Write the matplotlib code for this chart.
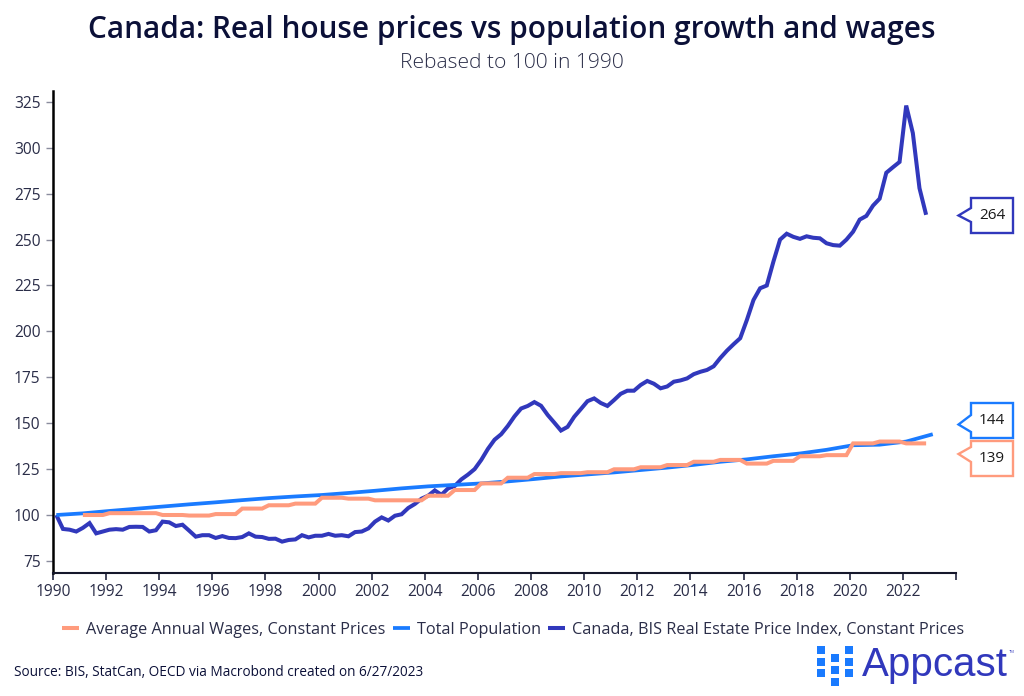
import matplotlib
matplotlib.use("Agg")
import matplotlib.pyplot as plt
from matplotlib.patches import Polygon, Rectangle

plt.rcParams['font.family'] = ['Open Sans', 'DejaVu Sans']

W, H = 1024, 696
NAVY, BLUE, ORANGE = '#3138BC', '#1A7BFF', '#FF9B7D'
INK = '#0B1038'
GREY = '#2A2D48'

title = "Canada: Real house prices vs population growth and wages"
subtitle = "Rebased to 100 in 1990"
source = "Source: BIS, StatCan, OECD via Macrobond created on 6/27/2023"
label_wages = "Average Annual Wages, Constant Prices"
label_pop = "Total Population"
label_house = "Canada, BIS Real Estate Price Index, Constant Prices"

x_ticks = list(range(1990, 2025, 2))
x_ticklabels = [str(y) for y in range(1990, 2023, 2)] + ['']
y_ticks = [75, 100, 125, 150, 175, 200, 225, 250, 275, 300, 325]

# quarterly, 1990 Q1 .. 2022 Q4 (plotted mid-quarter)
house = [100, 92.4, 92, 91, 93, 95.6, 90, 91, 92, 92.3, 92, 93.5, 93.6, 93.5, 91, 91.7,
         96.4, 96, 94, 94.7, 91.5, 88.2, 89, 89, 87.5, 88.5, 87.5, 87.4, 88, 90, 88.2, 88,
         87, 87.1, 85.5, 86.4, 86.7, 89, 87.8, 88.7, 88.7, 89.7, 88.7, 89, 88.4, 90.7, 91, 92.7,
         96.4, 98.7, 97, 99.6, 100.4, 103.8, 106, 108.9, 110.5, 113.4, 111, 114.5, 115.8, 119.4, 122, 125,
         130, 136, 141, 144, 148.5, 153.7, 158, 159.4, 161.5, 159.5, 154.5, 150.3, 146, 148, 153.5, 157.7,
         162, 163.5, 161, 159.4, 162.6, 166, 167.7, 167.7, 170.8, 173, 171.5, 169, 170, 172.6, 173.3, 174.4,
         176.7, 178, 179, 181, 185.5, 189.5, 193, 196.3, 206.2, 217.1, 223.5, 225, 238, 250, 253.2, 251.5,
         250.4, 251.8, 251, 250.7, 248, 247, 246.7, 250, 254.3, 260.9, 262.9, 268.5, 272.3, 286.4, 289.4, 292.3,
         323, 308, 278, 263.5]
house_x = [1990.125 + 0.25 * i for i in range(len(house))]

# quarterly, 1991 Q2 .. 2022 Q4
wages = [100, 100, 100, 100,
         101, 101, 101, 101, 101, 101, 101, 101, 100, 100, 100, 100,
         99.7, 99.7, 99.7, 99.7, 100.5, 100.5, 100.5, 100.5, 103.5, 103.5, 103.5, 103.5,
         105.3, 105.3, 105.3, 105.3, 106.2, 106.2, 106.2, 106.2, 109.4, 109.4, 109.4, 109.4,
         108.9, 108.9, 108.9, 108.9, 108, 108, 108, 108, 108, 108, 108, 108,
         110.5, 110.5, 110.5, 110.5, 113.6, 113.6, 113.6, 113.6, 117.2, 117.2, 117.2, 117.2,
         120.3, 120.3, 120.3, 120.3, 122.3, 122.3, 122.3, 122.3, 122.8, 122.8, 122.8, 122.8,
         123.3, 123.3, 123.3, 123.3, 124.9, 124.9, 124.9, 124.9, 126, 126, 126, 126,
         127.2, 127.2, 127.2, 127.2, 129, 129, 129, 129, 130, 130, 130, 130,
         128, 128, 128, 128, 129.5, 129.5, 129.5, 129.5, 132, 132, 132, 132,
         132.6, 132.6, 132.6, 132.6, 139, 139, 139, 139, 140, 140, 140, 140,
         139, 139, 139, 139]
wages_x = [1991.125 + 0.25 * i for i in range(len(wages))]

# annual, 1990 .. 2023
population = [100, 100.9, 102.2, 103.4, 104.6, 105.8, 106.9, 108.1, 109.2, 110.1, 110.9, 112,
              113.2, 114.5, 115.6, 116.4, 117.2, 118.3, 119.6, 121, 122.1, 123.2, 124.5, 125.8,
              127.3, 129, 130.3, 132, 133.5, 135.5, 138, 138.3, 140, 144]
population_x = [1990.125 + i for i in range(len(population))]

callouts = [(264, NAVY), (144, BLUE), (139, ORANGE)]


def fx(px):
    return px / W


def fy(py):
    return 1 - py / H


fig = plt.figure(figsize=(W / 100, H / 100), dpi=100, facecolor='white')
ax = fig.add_axes([fx(53), fy(572.5), fx(956 - 53), fy(91) - fy(572.5)])

ax.plot(wages_x, wages, color=ORANGE, lw=2.9, solid_joinstyle='miter', solid_capstyle='butt',
        label=label_wages, zorder=3.2)
ax.plot(population_x, population, color=BLUE, lw=2.7, solid_capstyle='butt',
        label=label_pop, zorder=3.1)
ax.plot(house_x, house, color=NAVY, lw=2.9, solid_joinstyle='miter', solid_capstyle='butt',
        label=label_house, zorder=3)

ax.set_xlim(1990, 2024)
ax.set_ylim(100 + (515 - 572.5) / 1.836, 100 + (515 - 91) / 1.836)
ax.set_xticks(x_ticks)
ax.set_xticklabels(x_ticklabels)
ax.set_yticks(y_ticks)
ax.tick_params(axis='x', length=5, width=1.2, color='#22253F', labelsize=11.2,
               labelcolor=GREY, pad=3)
ax.tick_params(axis='y', length=5, width=1.0, color='#8A8C9E', labelsize=11.2,
               labelcolor=GREY, pad=4)
for s in ('top', 'right'):
    ax.spines[s].set_visible(False)
ax.spines['left'].set_linewidth(1.8)
ax.spines['left'].set_color('black')
ax.spines['bottom'].set_linewidth(1.5)
ax.spines['bottom'].set_color('#15172B')

fig.text(0.5, fy(30), title, ha='center', va='center', fontsize=21.4, fontweight=600, color=INK)
fig.text(0.5, fy(63), subtitle, ha='center', va='center', fontsize=15.1, fontweight=300, color=GREY)
fig.text(fx(14), fy(672), source, ha='left', va='center', fontsize=9.8, color=INK)

fig.legend(loc='center', bbox_to_anchor=(fx(513), fy(630)), ncol=3, frameon=False,
           fontsize=11.7, labelcolor=GREY, handlelength=1.05, handletextpad=0.43,
           columnspacing=0.43, borderpad=0, borderaxespad=0)

boxes = [(198, 233, 215.5, 208, 222), (403, 438, 424.5, 415, 432), (441, 476, 454, 447, 462)]
for (val, col), (top, bot, tip, b0, b1) in zip(callouts, boxes):
    pts = [(971, top), (1013, top), (1013, bot), (971, bot), (971, b1), (958.5, tip), (971, b0)]
    fig.add_artist(Polygon([(fx(a), fy(b)) for a, b in pts], closed=True, transform=fig.transFigure,
                           facecolor='white', edgecolor=col, lw=1.7, joinstyle='miter'))
    fig.text(fx(992), fy((top + bot) / 2), str(val), ha='center', va='center', fontsize=11, color='#1A1A1A')

# logo
for cx, cy in [(821, 650), (821, 662), (821, 673), (835, 658), (835, 670), (835, 682),
               (849, 650), (849, 662), (849, 673)]:
    fig.add_artist(Rectangle((fx(cx - 4), fy(cy + 4)), 8 / W, 8 / H, transform=fig.transFigure,
                             facecolor=BLUE, edgecolor='none'))
fig.text(fx(862), fy(676), "Appcast", ha='left', va='baseline', fontsize=29,
         family='Liberation Sans', color=NAVY)
fig.text(fx(1009), fy(653), "TM", ha='left', va='baseline', fontsize=3, color=NAVY)

fig.savefig('out.png', dpi=100)
